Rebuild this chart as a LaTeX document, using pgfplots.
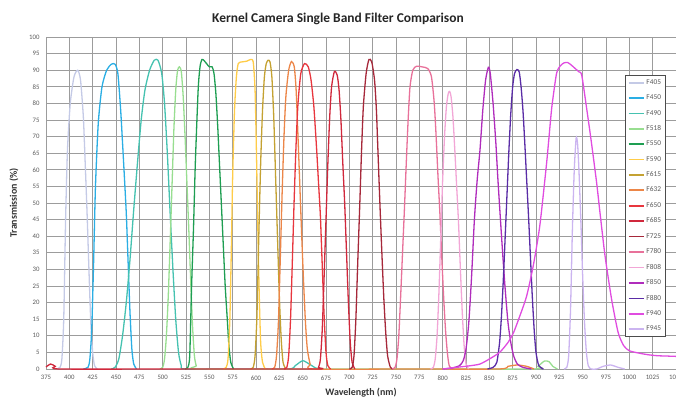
\documentclass[border=0pt]{standalone}
\usepackage{pgfplots}
\pgfplotsset{compat=1.18}
\usepackage{fontspec}
\setmainfont{Carlito}
\definecolor{gridc}{HTML}{9C9C9C}
\definecolor{tickc}{HTML}{595959}
\definecolor{cA}{HTML}{C4CAE6}
\definecolor{cB}{HTML}{2AAEE4}
\definecolor{cC}{HTML}{45C2B0}
\definecolor{cD}{HTML}{98DE90}
\definecolor{cE}{HTML}{1E9E52}
\definecolor{cF}{HTML}{FFCC48}
\definecolor{cG}{HTML}{C4A232}
\definecolor{cH}{HTML}{EC8648}
\definecolor{cI}{HTML}{E8363E}
\definecolor{cJ}{HTML}{D0283C}
\definecolor{cK}{HTML}{A6283A}
\definecolor{cL}{HTML}{E8719A}
\definecolor{cM}{HTML}{F2A6D6}
\definecolor{cN}{HTML}{B02CBC}
\definecolor{cO}{HTML}{5A2CA6}
\definecolor{cP}{HTML}{E04CE0}
\definecolor{cQ}{HTML}{CBB4F0}
\begin{document}
\begin{tikzpicture}
\useasboundingbox (0,0) rectangle (676bp,401bp);
\begin{axis}[
  at={(46bp,32bp)}, anchor=south west,
  scale only axis, width=630bp, height=332bp,
  xmin=375, xmax=1050, ymin=0, ymax=100,
  xtick={375,400,...,1050}, ytick={0,5,...,100},
  grid=major, major grid style={gridc, line width=0.75bp},
  axis line style={gridc, line width=0.75bp},
  major tick length=0pt,
  clip=false,
  /pgf/number format/assume math mode=true,
  /pgf/number format/set thousands separator={},
  tick label style={font=\fontsize{6.8}{7}\selectfont, text=tickc},
  xticklabel style={yshift=-3bp},
  yticklabel style={xshift=-3bp},
  title={Kernel Camera Single Band Filter Comparison},
  title style={at={(axis description cs:0.4635,1.037)}, anchor=center, font=\fontsize{13.5}{15}\selectfont\bfseries, text=black!85},
  xlabel={Wavelength (nm)},
  every axis x label/.style={at={(axis description cs:0.5,-0.072)}, anchor=center, font=\fontsize{10}{11}\selectfont\bfseries, text=black!80},
  ylabel={Transmission (\%)},
  every axis y label/.style={at={(axis description cs:-0.0508,0.5)}, rotate=90, anchor=center, font=\fontsize{10}{11}\selectfont\bfseries, text=black!80},
  legend style={at={(0.984,0.886)}, anchor=north east, draw=black!70, line width=0.75bp,
    font=\fontsize{7.4}{8}\selectfont, text=tickc, row sep=5bp, inner sep=2.5bp, fill=white},
  legend cell align=left,
  legend image code/.code={\draw[#1, line width=1.6bp] (0bp,0bp) -- (15bp,0bp);},
  every axis plot/.append style={line width=1.3bp, smooth, tension=0.4},
]
\addplot[cA] coordinates {(386,0)(390,0.5)(392,3)(394,15)(396,45)(398,66)(401,80)(405,88)(409,90)(412,87)(415,76)(417,62)(419,47)(421,30)(423,14)(425,5)(427,1)(430,0)};
\addlegendentry{F405}
\addplot[cB] coordinates {(415,0)(420,0.5)(422,3)(424,12)(426,32)(428,55)(431,74)(435,85)(440,90)(445,91.8)(449,91.8)(452,89)(455,78)(458,63)(461,47)(463,32)(465,17)(467,6)(469,1.5)(472,0)};
\addlegendentry{F450}
\addplot[cC] coordinates {(445,0)(449,0.5)(453,3)(457,10)(461,20)(465,33)(469,48)(473,62)(477,75)(481,84)(486,90)(491,93)(495,93)(499,89)(502,80)(505,65)(508,47)(511,30)(514,15)(517,5)(520,1)(524,0)(580,0)(635,0)(642,1)(650,2.5)(657,1.5)(664,0.3)(670,0)};
\addlegendentry{F490}
\addplot[cD] coordinates {(497,0)(500,0.5)(502,3)(504,10)(506,22)(508,38)(510,55)(512,72)(514,84)(516,90)(518,91)(520,89.5)(522,82)(524,70)(526,56)(528,42)(530,27)(532,13)(534,4)(536,1)(539,0)(700,0)(895,0)(902,0.8)(909,2.4)(914,2.2)(918,0.8)(923,0)};
\addlegendentry{F518}
\addplot[cE] coordinates {(524,0)(527,0.5)(529,4)(531,25)(533,42)(535,62)(538,84)(540,91)(542,93.2)(544,93)(547,92)(550,91)(553,91)(555,89)(557,83)(559,73)(561,61)(563,49)(565,37)(567,25)(569,16)(571,7)(573,2)(576,0)};
\addlegendentry{F550}
\addplot[cF] coordinates {(565,0)(568,0.5)(570,3)(572,15)(573.5,35)(575,58)(577,78)(579,88)(581,92)(585,92.5)(590,92.7)(594,93.2)(597,92.5)(599,84)(600.5,65)(602,42)(603.5,22)(605,8)(607,2)(610,0)};
\addlegendentry{F590}
\addplot[cG] coordinates {(594,0)(597,0.5)(599,4)(601,16)(603,40)(605,62)(607,78)(609,88)(611,92)(613,93)(615,92.5)(617,88)(619,76)(621,58)(623,40)(625,22)(627,9)(629,2)(632,0)};
\addlegendentry{F615}
\addplot[cH] coordinates {(617,0)(620,0.5)(622,4)(624,14)(626,33)(628,53)(630,70)(632,82)(635,90)(638,92.6)(641,91)(643,84)(645,70)(647,55)(649,40)(651,26)(653,14)(655,6)(658,1.5)(661,0)(760,0)(860,0)(870,0.8)(880,1.2)(890,0.8)(898,0)};
\addlegendentry{F632}
\addplot[cI] coordinates {(630,0)(633,0.5)(635,4)(637,15)(639,33)(641,52)(643,68)(645,80)(648,89)(652,92)(656,91)(659,87)(662,79)(665,66)(667,56)(669,46)(671,31)(673,16)(675,5)(677,1)(680,0)};
\addlegendentry{F650}
\addplot[cJ] coordinates {(375,0.6)(380,1.5)(385,0.8)(390,0)(520,0)(664,0)(667,0.5)(669,3)(671,12)(673,28)(675,45)(677,62)(679,76)(681,85)(684,89.6)(687,88.5)(689,84)(691,75)(693,62)(695,50)(697,35)(699,20)(701,8)(703,2)(706,0)};
\addlegendentry{F685}
\addplot[cK] coordinates {(700,0)(703,0.5)(705,4)(707,15)(709,32)(711,48)(713,65)(715,79)(718,89)(721,93.2)(724,92.5)(727,87)(729,78)(731,63)(733,48)(735,34)(737,21)(739,11)(741,4)(744,0.5)(747,0)};
\addlegendentry{F725}
\addplot[cL] coordinates {(746,0)(749,0.5)(751,3)(753,10)(755,22)(757,35)(759,48)(761,62)(763,75)(765,85)(768,90)(772,91.2)(778,91)(784,90.5)(788,88)(791,80)(793,70)(795,58)(797,47)(799,34)(801,22)(803,12)(805,5)(807,1)(810,0)};
\addlegendentry{F780}
\addplot[cM] coordinates {(787,0)(790,0.5)(792,3)(794,10)(796,23)(798,40)(800,57)(802,70)(804,79)(806,83)(807.5,83.6)(809,82)(811,76)(813,66)(815,55)(817,44)(819,30)(821,17)(823,7)(825,1.5)(828,0)};
\addlegendentry{F808}
\addplot[cN] coordinates {(800,0)(810,0.3)(818,1)(822,2.5)(825,6)(828,14)(831,28)(834,45)(837,57)(840,66)(843,78)(846,87)(849,90.9)(851,89)(854,80)(857,68)(859,58)(861,49)(864,36)(867,24)(870,14)(873,8)(876,4)(880,1.5)(886,0.5)(895,0)};
\addlegendentry{F850}
\addplot[cO] coordinates {(848,0)(854,0.5)(858,2)(861,8)(863,16)(865,27)(867,40)(869,53)(871,66)(873,77)(875,85)(877,89)(879.5,90.2)(882,89.5)(884,85)(886,78)(888,68)(890,57)(892,46)(894,34)(896,22)(898,12)(900,5)(903,1)(908,0)};
\addlegendentry{F880}
\addplot[cP] coordinates {(800,0)(815,0.5)(830,1)(840,1.5)(850,3)(861,5)(870,8)(876,11)(884,17)(890,22)(897,31)(904,43)(911,61)(914,70)(917,79)(922,89)(926,91.3)(930,92.2)(934,92.3)(938,91.5)(942,90.5)(946,89.5)(949,88.5)(954,79)(959,69)(965,56)(969,46)(974,34)(981,21)(988,11)(994,7)(1000,5.5)(1010,4.8)(1020,4.3)(1030,4)(1040,3.9)(1050,3.8)};
\addlegendentry{F940}
\addplot[cQ] coordinates {(930,0)(933,0.5)(935,4)(937,18)(939,42)(941,60)(943,69.5)(944.5,68)(946,60)(948,45)(950,28)(952,14)(954,5)(956,1)(959,0)(965,0)(972,0.8)(980,1.2)(988,0.5)(995,0)};
\addlegendentry{F945}
\end{axis}
\end{tikzpicture}
\end{document}
